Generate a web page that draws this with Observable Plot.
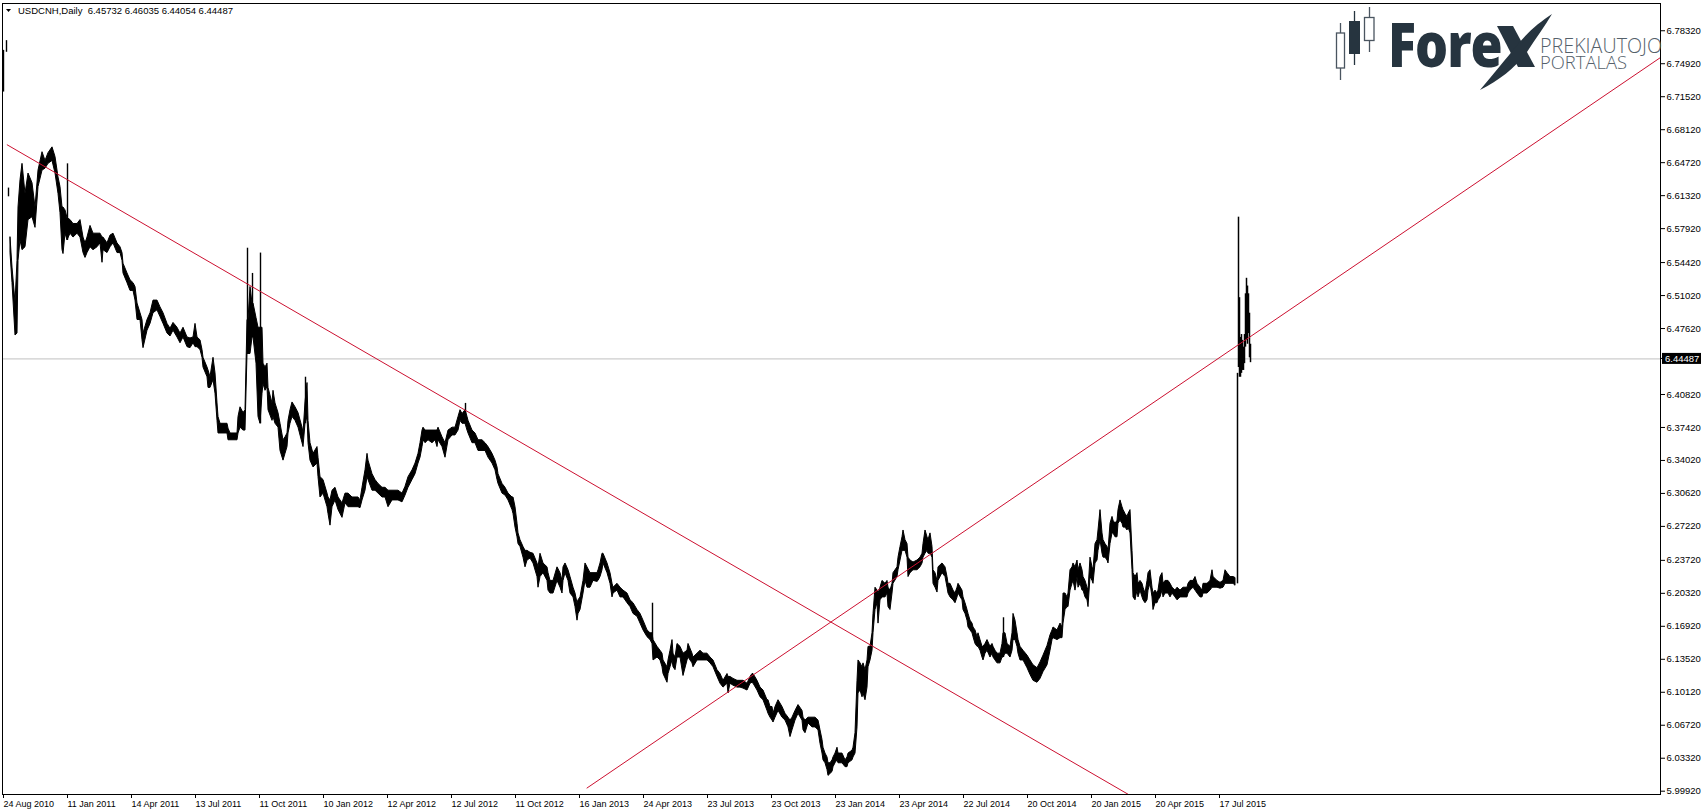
<!DOCTYPE html>
<html><head><meta charset="utf-8">
<script src="https://cdn.jsdelivr.net/npm/d3@7"></script>
<script src="https://cdn.jsdelivr.net/npm/@observablehq/plot@0.6"></script>
<style>html,body{margin:0;padding:0;background:#fff;overflow:hidden}#chart svg{display:block}</style>
</head><body><div id="chart"></div>
<script>
const symbolTitle = "USDCNH,Daily";
const lastBar = [6.45732, 6.46035, 6.44054, 6.44487];
const currentPrice = 6.44487;
const priceTicks = [6.78320, 6.74920, 6.71520, 6.68120, 6.64720, 6.61320, 6.57920, 6.54420, 6.51020, 6.47620, 6.40820, 6.37420, 6.34020, 6.30620, 6.27220, 6.23720, 6.20320, 6.16920, 6.13520, 6.10120, 6.06720, 6.03320, 5.99920];
const dateTickIdx = [0,64,128,192,256,320,384,448,512,576,640,704,768,832,896,960,1024,1088,1152,1216];
const dateLabels = ["24 Aug 2010","11 Jan 2011","14 Apr 2011","13 Jul 2011","11 Oct 2011","10 Jan 2012","12 Apr 2012","12 Jul 2012","11 Oct 2012","16 Jan 2013","24 Apr 2013","23 Jul 2013","23 Oct 2013","23 Jan 2014","23 Apr 2014","22 Jul 2014","20 Oct 2014","20 Jan 2015","20 Apr 2015","17 Jul 2015"];

// daily bar envelope (bar number, high, low)
const bandIdx = [8,10,13,15,16,18,20,23,26,30, 33,36,40,43,46,50,53,56,58,60, 61,63,65,68,71,75,78,81,83,85, 88,91,95,98,100,101,105,108,111,115, 118,120,121,125,128,131,133,135,138,140, 141,145,148,151,155,158,161,165,168,171, 175,178,181,185,188,191,193,195,198,200, 201,205,206,208,211,213,215,216,218,221, 225,226,228,231,235,236,238,241,243,245, 246,248,250,251,254,256,258,260,261,263, 265,266,270,271,273,276,278,281,283,285, 286,288,290,293,296,300,301,303,305,306, 308,311,315,316,318,321,325,326,328,330, 333,336,340,343,346,350,353,356,358,360, 363,365,366,370,373,376,380,383,386,390, 393,396,400,403,406,410,413,416,418,420, 421,423,426,430,433,435,436,440,443,446, 450,453,456,458,460,463,465,466,470,473, 476,480,483,486,490,493,495,496,500,503, 506,510,511,513,515,516,518,521,523,525, 528,531,535,536,538,541,545,546,548,551, 555,558,560,561,563,566,568,571,573,575, 576,578,581,583,585,588,591,595,596,598, 600,601,605,608,610,611,615,618,621,625, 628,631,635,638,641,645,648,650,651,655, 658,660,661,665,666,668,670,671,673,675, 678,681,685,686,690,691,695,698,701,705, 708,711,715,718,721,725,726,728,731,735, 738,741,745,748,750,751,755,758,761,765, 766,768,770,771,773,776,780,783,786,788, 790,793,796,800,801,803,806,810,813,816, 818,820,821,823,825,826,828,830,831,833, 835,836,840,843,845,846,850,851,853,855, 856,858,860,861,863,865,866,868,870,871, 873,875,876,878,880,883,885,886,888,890, 891,895,896,898,900,901,903,905,906,908, 911,915,918,920,921,923,925,926,928,930, 931,933,935,936,940,943,945,946,948,951, 953,955,956,960,961,963,965,966,968,970, 971,973,975,976,978,980,981,983,985,988, 990,991,993,995,998,1000,1001,1003,1005,1008, 1010,1011,1013,1015,1016,1018,1021,1025,1028,1031, 1035,1038,1041,1045,1048,1050,1051,1055,1058,1060, 1061,1063,1065,1066,1068,1070,1071,1073,1075,1076, 1078,1080,1081,1083,1085,1086,1088,1090,1091,1093, 1095,1096,1098,1100,1101,1103,1105,1106,1108,1110, 1111,1113,1115,1116,1118,1120,1121,1123,1125,1126, 1128,1130,1131,1133,1135,1136,1138,1140,1141,1143, 1145,1146,1148,1150,1151,1153,1155,1156,1158,1160, 1161,1163,1166,1168,1170,1173,1175,1178,1181,1185, 1186,1188,1191,1193,1195,1198,1200,1201,1205,1208, 1210,1211,1215,1218,1221,1223,1225,1228,1231,1233];
const bandHigh = [6.570,6.539,6.503,6.546,6.601,6.629,6.646,6.615,6.636,6.626, 6.601,6.639,6.658,6.649,6.657,6.663,6.653,6.632,6.622,6.601, 6.601,6.598,6.590,6.588,6.584,6.584,6.588,6.570,6.564,6.570, 6.582,6.574,6.574,6.574,6.570,6.570,6.564,6.572,6.574,6.564, 6.560,6.554,6.543,6.533,6.526,6.523,6.519,6.502,6.492,6.485, 6.471,6.485,6.492,6.505,6.505,6.498,6.492,6.481,6.476,6.482, 6.477,6.471,6.477,6.467,6.466,6.467,6.481,6.467,6.464,6.454, 6.446,6.436,6.433,6.426,6.446,6.430,6.399,6.385,6.378,6.378, 6.378,6.373,6.368,6.368,6.368,6.385,6.395,6.389,6.392,6.485, 6.485,6.519,6.502,6.502,6.487,6.477,6.477,6.477,6.440,6.436, 6.440,6.415,6.399,6.412,6.399,6.389,6.378,6.361,6.364,6.368, 6.381,6.392,6.400,6.395,6.389,6.374,6.368,6.400,6.420,6.381, 6.358,6.347,6.354,6.343,6.323,6.320,6.306,6.302,6.299,6.309, 6.312,6.302,6.296,6.306,6.306,6.302,6.302,6.302,6.299,6.312, 6.330,6.347,6.340,6.326,6.320,6.316,6.312,6.312,6.309,6.309, 6.309,6.309,6.306,6.313,6.323,6.330,6.337,6.347,6.358,6.371, 6.374,6.371,6.371,6.371,6.371,6.371,6.374,6.364,6.358,6.371, 6.374,6.374,6.385,6.392,6.388,6.392,6.385,6.381,6.371,6.368, 6.361,6.361,6.358,6.354,6.347,6.340,6.333,6.326,6.316,6.312, 6.306,6.302,6.302,6.292,6.275,6.265,6.258,6.251,6.247,6.247, 6.245,6.244,6.234,6.230,6.244,6.234,6.230,6.224,6.216,6.216, 6.230,6.224,6.216,6.230,6.234,6.227,6.220,6.209,6.203,6.193, 6.196,6.199,6.216,6.234,6.230,6.224,6.224,6.224,6.227,6.234, 6.244,6.244,6.234,6.224,6.213,6.209,6.213,6.209,6.206,6.203, 6.196,6.193,6.186,6.182,6.175,6.165,6.162,6.162,6.155,6.148, 6.144,6.141,6.134,6.127,6.134,6.144,6.155,6.141,6.137,6.151, 6.148,6.141,6.144,6.151,6.141,6.137,6.141,6.144,6.141,6.141, 6.137,6.134,6.124,6.120,6.113,6.120,6.117,6.117,6.115,6.113, 6.113,6.113,6.110,6.117,6.120,6.120,6.113,6.106,6.103,6.093, 6.093,6.086,6.086,6.079,6.086,6.093,6.086,6.079,6.075,6.072, 6.075,6.082,6.088,6.082,6.075,6.072,6.075,6.075,6.075,6.072, 6.062,6.052,6.044,6.038,6.034,6.028,6.028,6.031,6.034,6.038, 6.044,6.038,6.038,6.031,6.034,6.038,6.041,6.044,6.059,6.113, 6.134,6.131,6.127,6.131,6.124,6.134,6.148,6.148,6.162,6.182, 6.209,6.206,6.203,6.209,6.216,6.213,6.216,6.209,6.206,6.213, 6.224,6.230,6.240,6.251,6.261,6.268,6.258,6.254,6.240,6.237, 6.235,6.237,6.240,6.244,6.254,6.268,6.261,6.258,6.265,6.251, 6.227,6.224,6.216,6.230,6.234,6.230,6.220,6.213,6.213,6.206, 6.203,6.209,6.213,6.206,6.199,6.193,6.186,6.182,6.175,6.172, 6.168,6.165,6.158,6.162,6.155,6.148,6.148,6.151,6.155,6.148, 6.151,6.148,6.144,6.141,6.141,6.151,6.162,6.162,6.151,6.148, 6.162,6.182,6.175,6.162,6.155,6.148,6.144,6.139,6.134,6.129, 6.126,6.132,6.139,6.149,6.160,6.165,6.168,6.165,6.172,6.168, 6.203,6.203,6.199,6.203,6.227,6.230,6.234,6.230,6.237,6.227, 6.234,6.227,6.220,6.216,6.209,6.206,6.240,6.230,6.227,6.254, 6.258,6.268,6.289,6.265,6.258,6.254,6.251,6.247,6.275,6.282, 6.278,6.275,6.278,6.289,6.299,6.292,6.289,6.285,6.282,6.285, 6.289,6.247,6.224,6.220,6.224,6.213,6.216,6.213,6.209,6.203, 6.216,6.224,6.227,6.209,6.203,6.206,6.203,6.206,6.220,6.224, 6.213,6.216,6.216,6.213,6.209,6.206,6.209,6.206,6.209,6.209, 6.213,6.216,6.216,6.220,6.213,6.209,6.206,6.213,6.213,6.216, 6.227,6.220,6.216,6.214,6.216,6.227,6.224,6.220,6.220,6.219];
const bandLow = [6.554,6.523,6.469,6.471,6.546,6.567,6.557,6.560,6.588,6.591, 6.580,6.622,6.639,6.641,6.646,6.649,6.636,6.615,6.595,6.557, 6.553,6.574,6.567,6.574,6.570,6.574,6.570,6.554,6.549,6.554, 6.560,6.557,6.560,6.564,6.544,6.557,6.554,6.560,6.564,6.554, 6.554,6.546,6.533,6.523,6.515,6.515,6.505,6.485,6.485,6.464, 6.456,6.474,6.481,6.492,6.495,6.488,6.481,6.471,6.468,6.474, 6.467,6.461,6.467,6.457,6.456,6.461,6.457,6.457,6.454,6.446, 6.436,6.426,6.415,6.415,6.423,6.409,6.381,6.368,6.368,6.368, 6.368,6.361,6.361,6.361,6.361,6.368,6.374,6.371,6.371,6.450, 6.450,6.450,6.467,6.467,6.440,6.385,6.378,6.409,6.419,6.412, 6.416,6.392,6.381,6.385,6.378,6.374,6.350,6.340,6.347,6.354, 6.368,6.378,6.385,6.381,6.374,6.358,6.354,6.378,6.385,6.358, 6.340,6.333,6.337,6.323,6.302,6.306,6.292,6.285,6.273,6.292, 6.299,6.289,6.281,6.296,6.292,6.292,6.292,6.292,6.291,6.299, 6.309,6.323,6.320,6.309,6.309,6.306,6.302,6.302,6.292,6.299, 6.299,6.299,6.297,6.304,6.312,6.320,6.326,6.337,6.343,6.354, 6.361,6.358,6.361,6.358,6.361,6.354,6.361,6.354,6.343,6.361, 6.366,6.366,6.371,6.381,6.378,6.378,6.371,6.368,6.358,6.358, 6.350,6.350,6.350,6.343,6.337,6.330,6.320,6.316,6.306,6.304, 6.299,6.289,6.285,6.271,6.261,6.254,6.251,6.240,6.230,6.237, 6.239,6.234,6.220,6.209,6.220,6.224,6.216,6.206,6.203,6.203, 6.216,6.209,6.203,6.216,6.224,6.216,6.203,6.199,6.189,6.175, 6.182,6.186,6.203,6.216,6.209,6.209,6.216,6.215,6.216,6.220, 6.227,6.234,6.224,6.213,6.199,6.203,6.206,6.199,6.199,6.193, 6.189,6.182,6.179,6.172,6.165,6.158,6.155,6.151,6.134,6.137, 6.134,6.127,6.120,6.111,6.120,6.127,6.134,6.127,6.124,6.137, 6.137,6.118,6.134,6.137,6.131,6.127,6.134,6.134,6.134,6.134, 6.131,6.127,6.117,6.110,6.106,6.110,6.100,6.110,6.108,6.106, 6.106,6.105,6.103,6.110,6.111,6.110,6.103,6.096,6.093,6.082, 6.079,6.075,6.072,6.070,6.075,6.082,6.075,6.072,6.065,6.055, 6.062,6.072,6.079,6.072,6.062,6.059,6.069,6.065,6.065,6.062, 6.048,6.038,6.031,6.028,6.021,6.015,6.017,6.019,6.024,6.028, 6.031,6.028,6.028,6.024,6.024,6.028,6.031,6.034,6.038,6.065, 6.100,6.103,6.096,6.100,6.093,6.106,6.127,6.134,6.144,6.162, 6.186,6.193,6.172,6.196,6.199,6.199,6.203,6.189,6.186,6.203, 6.213,6.220,6.227,6.237,6.247,6.247,6.247,6.240,6.220,6.224, 6.227,6.227,6.230,6.234,6.240,6.244,6.247,6.244,6.244,6.240, 6.213,6.209,6.204,6.216,6.224,6.220,6.209,6.203,6.199,6.196, 6.193,6.199,6.203,6.196,6.186,6.182,6.175,6.168,6.165,6.162, 6.158,6.151,6.148,6.148,6.144,6.137,6.134,6.141,6.144,6.137, 6.141,6.137,6.134,6.131,6.131,6.137,6.137,6.141,6.141,6.137, 6.144,6.155,6.155,6.148,6.141,6.134,6.134,6.126,6.119,6.113, 6.111,6.115,6.122,6.129,6.144,6.155,6.157,6.155,6.157,6.157, 6.172,6.186,6.189,6.189,6.206,6.213,6.216,6.206,6.220,6.209, 6.213,6.206,6.206,6.199,6.196,6.189,6.220,6.216,6.213,6.234, 6.237,6.247,6.258,6.244,6.240,6.240,6.237,6.234,6.254,6.265, 6.265,6.261,6.261,6.275,6.278,6.275,6.271,6.271,6.268,6.271, 6.265,6.227,6.199,6.196,6.206,6.199,6.206,6.199,6.196,6.193, 6.196,6.206,6.213,6.199,6.186,6.193,6.193,6.196,6.199,6.206, 6.199,6.203,6.203,6.199,6.203,6.199,6.196,6.199,6.199,6.199, 6.203,6.206,6.209,6.206,6.203,6.199,6.199,6.203,6.203,6.206, 6.209,6.209,6.209,6.208,6.209,6.213,6.213,6.213,6.213,6.211];

// single tall bars (spikes) and the first erratic bars
const spikeIdx = [1, 4, 6, 65, 245, 250, 258, 303, 463, 650, 1001];
const spikeHigh = [6.763, 6.773, 6.621, 6.646, 6.559, 6.533, 6.554, 6.426, 6.399, 6.193, 6.178];
const spikeLow = [6.720, 6.761, 6.612, 6.567, 6.450, 6.467, 6.378, 6.378, 6.378, 6.151, 6.137];

// bars after the August 2015 jump
const lateIdx = [1235, 1236, 1237, 1238, 1239, 1240, 1241, 1242, 1243, 1244, 1245, 1246, 1247, 1248];
const lateHigh = [6.430, 6.591, 6.508, 6.467, 6.470, 6.464, 6.457, 6.470, 6.512, 6.528, 6.520, 6.512, 6.492, 6.460];
const lateLow = [6.213, 6.436, 6.426, 6.426, 6.430, 6.433, 6.433, 6.440, 6.457, 6.464, 6.460, 6.471, 6.446, 6.441];

// trend lines (bar number, price)
const trendDownIdx = [4.7, 1126];
const trendDownPrice = [6.6656, 5.9958];
const trendUpIdx = [584.5, 1658];
const trendUpPrice = [6.0025, 6.7556];

const fmt5 = d3.format(".5f");
const bars = bandIdx.map((x, i) => ({x, hi: bandHigh[i], lo: bandLow[i]}));
const spikes = spikeIdx.map((x, i) => ({x, hi: spikeHigh[i], lo: spikeLow[i]}));
const late = lateIdx.map((x, i) => ({x, hi: lateHigh[i], lo: lateLow[i]}));
const trendDown = trendDownIdx.map((x, i) => ({x, y: trendDownPrice[i]}));
const trendUp = trendUpIdx.map((x, i) => ({x, y: trendUpPrice[i]}));
const red = "#cc1030";

const plot = Plot.plot({
  width: 1703, height: 812,
  marginLeft: 2, marginRight: 43, marginTop: 3, marginBottom: 18,
  style: {fontFamily: "'Liberation Sans', Arial, sans-serif", fontSize: "9.5px", background: "#fff", color: "#000", overflow: "visible"},
  x: {domain: [0, 1658], label: null},
  y: {domain: [5.9958, 6.8113], label: null},
  marks: [
    Plot.ruleY([currentPrice], {stroke: "#c0c0c0", strokeWidth: 1}),
    Plot.areaY(bars, {x: "x", y1: "lo", y2: "hi", fill: "#000", stroke: "#000", strokeWidth: 1}),
    Plot.ruleX(spikes, {x: "x", y1: "lo", y2: "hi", stroke: "#000", strokeWidth: 1.4}),
    Plot.ruleX(late, {x: "x", y1: "lo", y2: "hi", stroke: "#000", strokeWidth: 1.5}),
    Plot.line(trendDown, {x: "x", y: "y", stroke: red, strokeWidth: 1}),
    Plot.line(trendUp, {x: "x", y: "y", stroke: red, strokeWidth: 1}),
    Plot.axisX(dateTickIdx, {anchor: "bottom", tickSize: 4, tickPadding: 2, textAnchor: "start", dx: 1, fontSize: 9, tickFormat: d => dateLabels[dateTickIdx.indexOf(d)], label: null}),
    Plot.axisY(priceTicks, {anchor: "right", tickSize: 4, tickPadding: 2, tickFormat: fmt5, label: null}),
    Plot.frame({stroke: "#000"})
  ]
});

const svg = d3.select(plot);
// current price marker
const yCur = plot.scale("y").apply(currentPrice);
svg.append("line").attr("x1", 1660).attr("x2", 1664).attr("y1", yCur).attr("y2", yCur).attr("stroke", "#000");
svg.append("rect").attr("x", 1662).attr("y", yCur - 5.5).attr("width", 39).attr("height", 11).attr("fill", "#000");
svg.append("text").attr("x", 1665).attr("y", yCur).attr("dy", "0.34em").attr("fill", "#fff")
  .attr("text-anchor", "start").attr("font-size", 9.5).text(fmt5(currentPrice));

// header
svg.append("path").attr("d", "M6,9 L11,9 L8.5,12 Z").attr("fill", "#000");
svg.append("text").attr("x", 18).attr("y", 13.5).attr("font-size", 9.5).attr("fill", "#000")
  .attr("text-anchor", "start").attr("xml:space", "preserve")
  .text(symbolTitle + "  " + lastBar.map(fmt5).join(" "));

// logo
const logo = svg.append("g").attr("text-anchor", "start");
const ink = "#26343f";
const edge = "#4a5560";
logo.append("line").attr("x1", 1340.5).attr("x2", 1340.5).attr("y1", 23).attr("y2", 80).attr("stroke", edge).attr("stroke-width", 1.3);
logo.append("rect").attr("x", 1336.5).attr("y", 33).attr("width", 8).attr("height", 35).attr("fill", "#fff").attr("stroke", edge).attr("stroke-width", 1.3);
logo.append("line").attr("x1", 1354.5).attr("x2", 1354.5).attr("y1", 11).attr("y2", 65).attr("stroke", ink).attr("stroke-width", 1.3);
logo.append("rect").attr("x", 1349).attr("y", 21).attr("width", 11).attr("height", 33).attr("fill", ink);
logo.append("line").attr("x1", 1369.5).attr("x2", 1369.5).attr("y1", 7).attr("y2", 52).attr("stroke", edge).attr("stroke-width", 1.3);
logo.append("rect").attr("x", 1364.5).attr("y", 17.5).attr("width", 9.5).attr("height", 23).attr("fill", "#fff").attr("stroke", edge).attr("stroke-width", 1.3);
logo.append("text").attr("transform", "translate(1388,67) scale(1,1.18)")
  .attr("font-family", "'Open Sans', 'DejaVu Sans', sans-serif")
  .attr("font-weight", 800).attr("font-size", 52).attr("fill", ink).attr("text-anchor", "start")
  .attr("letter-spacing", -1).text("Fore");
logo.append("path").attr("d", "M1497,26 L1513,26 L1535,67 L1518,67 Z").attr("fill", ink);
logo.append("path").attr("d", "M1480,90 C1495,72 1505,60 1518,44 C1530,30 1540,22 1552,14 C1545,26 1536,38 1527,52 C1515,68 1500,80 1480,90 Z").attr("fill", ink);
logo.append("text").attr("x", 1540).attr("y", 52.5).attr("font-family", "'Open Sans', 'DejaVu Sans', sans-serif")
  .attr("font-weight", 300).attr("font-size", 20).attr("fill", "#55616b").attr("text-anchor", "start")
  .attr("textLength", 122).attr("lengthAdjust", "spacingAndGlyphs").text("PREKIAUTOJO");
logo.append("text").attr("x", 1540).attr("y", 68.5).attr("font-family", "'Open Sans', 'DejaVu Sans', sans-serif")
  .attr("font-weight", 300).attr("font-size", 19).attr("fill", "#55616b").attr("text-anchor", "start")
  .attr("textLength", 87).attr("lengthAdjust", "spacingAndGlyphs").text("PORTALAS");

document.getElementById("chart").appendChild(plot);
</script>
</body></html>
